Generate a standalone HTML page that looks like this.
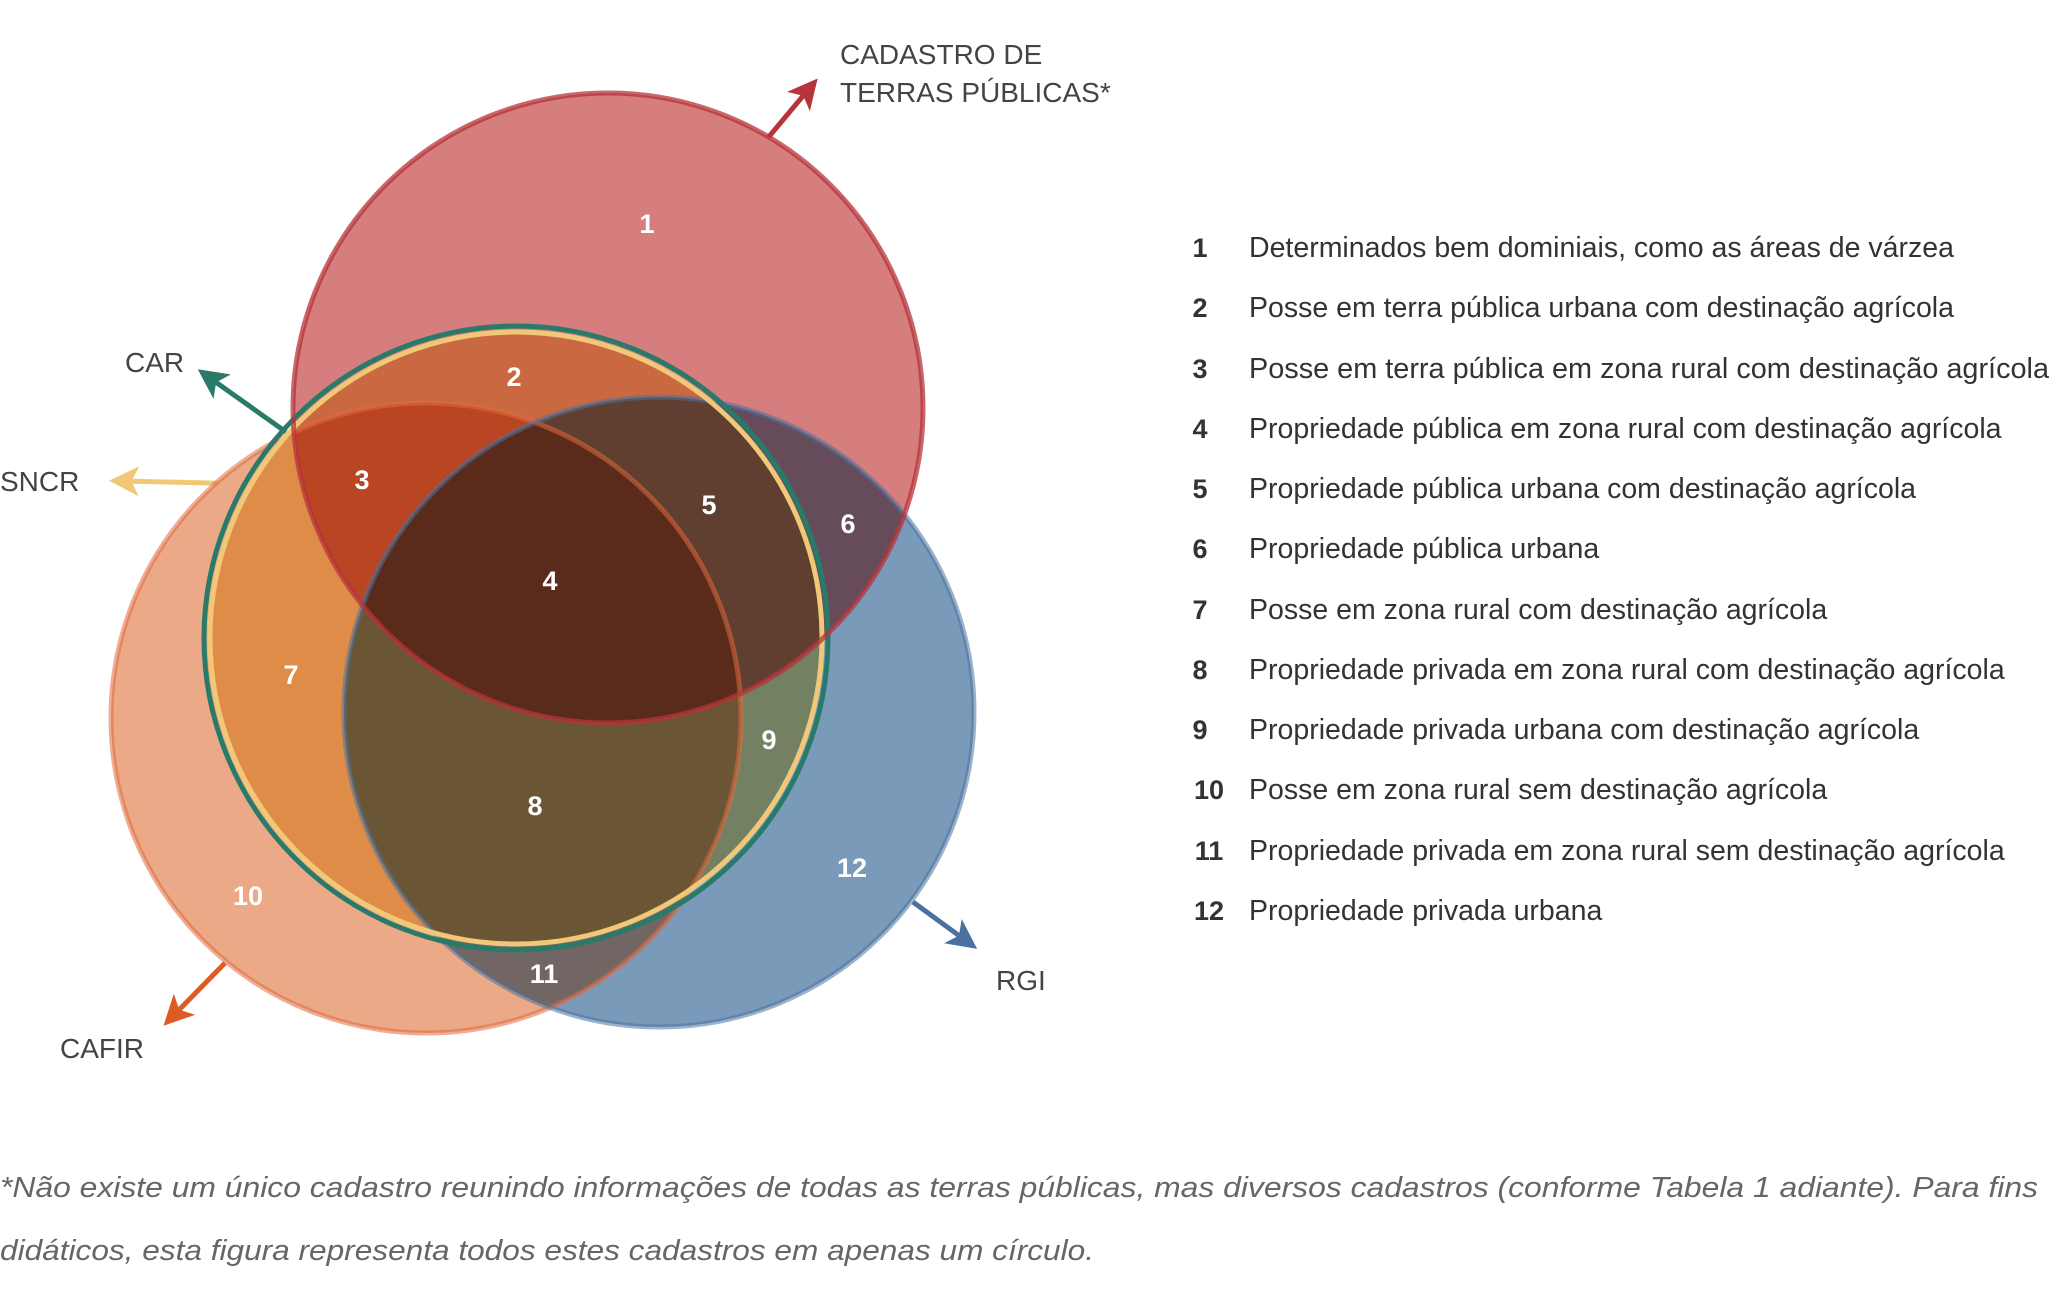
<!DOCTYPE html>
<html><head><meta charset="utf-8"><style>
body{margin:0;width:2055px;height:1292px;background:#fff;overflow:hidden;font-family:"Liberation Sans",sans-serif}
svg{position:absolute;left:0;top:0}
</style></head><body>
<svg width="2055" height="1292" viewBox="0 0 2055 1292">
<defs>
<marker id="mr" markerWidth="6" markerHeight="6" refX="3" refY="3" orient="auto"><path d="M0,0L6,3L0,6L1.5,3z" fill="#b8343a"/></marker>
<marker id="mg" markerWidth="6" markerHeight="6" refX="3" refY="3" orient="auto"><path d="M0,0L6,3L0,6L1.5,3z" fill="#2a7a6a"/></marker>
<marker id="my" markerWidth="6" markerHeight="6" refX="3" refY="3" orient="auto"><path d="M0,0L6,3L0,6L1.5,3z" fill="#f0c878"/></marker>
<marker id="mo" markerWidth="6" markerHeight="6" refX="3" refY="3" orient="auto"><path d="M0,0L6,3L0,6L1.5,3z" fill="#e05a24"/></marker>
<marker id="mb" markerWidth="6" markerHeight="6" refX="3" refY="3" orient="auto"><path d="M0,0L6,3L0,6L1.5,3z" fill="#4a72a0"/></marker>
</defs>
<g stroke-width="5">
<line x1="767" y1="139" x2="808" y2="90" stroke="#b8343a" marker-end="url(#mr)"/>
<line x1="286" y1="432" x2="210" y2="378" stroke="#2a7a6a" marker-end="url(#mg)"/>
<line x1="256" y1="484" x2="124" y2="481" stroke="#f0c878" marker-end="url(#my)"/>
<line x1="225" y1="963" x2="174" y2="1015" stroke="#e05a24" marker-end="url(#mo)"/>
<line x1="913" y1="902" x2="965" y2="940" stroke="#4a72a0" marker-end="url(#mb)"/>
</g>
<g style="isolation:isolate">
<circle cx="608" cy="408" r="315" fill="#d67d7d" style="mix-blend-mode:multiply"/>
<circle cx="659" cy="712" r="315" fill="#7a9aba" style="mix-blend-mode:multiply"/>
<circle cx="426" cy="718" r="315" fill="#eca988" style="mix-blend-mode:multiply"/>
<circle cx="516" cy="638" r="305" fill="#f0d485" style="mix-blend-mode:multiply"/>
</g>
<g fill="none" stroke-width="5">
<circle cx="426" cy="718" r="315" stroke="#e06a3e" stroke-opacity="0.55"/>
<circle cx="659" cy="712" r="315" stroke="#4a72a0" stroke-opacity="0.55"/>
<circle cx="516" cy="638" r="312" stroke="#2a7a6a"/>
<circle cx="516" cy="638" r="306" stroke="#f0c878"/>
<circle cx="608" cy="408" r="315" stroke="#b5343a" stroke-opacity="0.75"/>
</g>
<g fill="none" stroke-width="5">
<path d="M 300 1006 A 315 315 0 0 1 ..." stroke="none"/>
</g>
<g fill="#fff" font-weight="bold" font-size="27" text-anchor="middle" dominant-baseline="central">
<text x="647" y="224">1</text><text x="514" y="377">2</text><text x="362" y="480">3</text>
<text x="550" y="581">4</text><text x="709" y="505">5</text><text x="848" y="524">6</text>
<text x="291" y="675">7</text><text x="535" y="806">8</text><text x="769" y="740">9</text>
<text x="248" y="896">10</text><text x="544" y="974">11</text><text x="852" y="868">12</text>
</g>
<g fill="#444" font-size="28">
<text x="840" y="64">CADASTRO DE</text><text x="840" y="102">TERRAS PÚBLICAS*</text>
<text x="125" y="372">CAR</text><text x="0" y="491">SNCR</text>
<text x="60" y="1058">CAFIR</text><text x="996" y="990">RGI</text>
</g>
<g font-size="28.5" fill="#333">
<g font-weight="bold" text-anchor="middle" font-size="27">
<text x="1200" y="257">1</text><text x="1200" y="317">2</text><text x="1200" y="378">3</text><text x="1200" y="438">4</text>
<text x="1200" y="498">5</text><text x="1200" y="558">6</text><text x="1200" y="619">7</text><text x="1200" y="679">8</text>
<text x="1200" y="739">9</text><text x="1209" y="799">10</text><text x="1209" y="860">11</text><text x="1209" y="920">12</text>
</g>
<text x="1249" y="257">Determinados bem dominiais, como as áreas de várzea</text>
<text x="1249" y="317">Posse em terra pública urbana com destinação agrícola</text>
<text x="1249" y="378" textLength="800" lengthAdjust="spacingAndGlyphs">Posse em terra pública em zona rural com destinação agrícola</text>
<text x="1249" y="438">Propriedade pública em zona rural com destinação agrícola</text>
<text x="1249" y="498">Propriedade pública urbana com destinação agrícola</text>
<text x="1249" y="558">Propriedade pública urbana</text>
<text x="1249" y="619">Posse em zona rural com destinação agrícola</text>
<text x="1249" y="679">Propriedade privada em zona rural com destinação agrícola</text>
<text x="1249" y="739">Propriedade privada urbana com destinação agrícola</text>
<text x="1249" y="799">Posse em zona rural sem destinação agrícola</text>
<text x="1249" y="860">Propriedade privada em zona rural sem destinação agrícola</text>
<text x="1249" y="920">Propriedade privada urbana</text>
</g>
<g font-size="29" font-style="italic" fill="#666">
<text x="0" y="1197" textLength="2038" lengthAdjust="spacingAndGlyphs">*Não existe um único cadastro reunindo informações de todas as terras públicas, mas diversos cadastros (conforme Tabela 1 adiante). Para fins</text>
<text x="0" y="1260" textLength="1094" lengthAdjust="spacingAndGlyphs">didáticos, esta figura representa todos estes cadastros em apenas um círculo.</text>
</g>
</svg>
</body></html>
